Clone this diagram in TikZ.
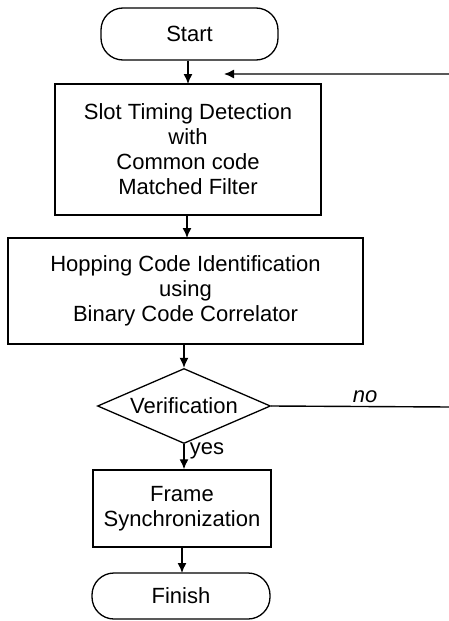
\documentclass[tikz,border=0pt]{standalone}
\usepackage{fontspec}
\setmainfont{Liberation Sans}
\usetikzlibrary{arrows.meta,shapes.geometric}
\begin{document}
\begin{tikzpicture}[x=1pt,y=-1pt,
  every node/.style={font=\fontsize{22}{25}\selectfont},
  term/.style={draw,line width=1.3pt,rounded corners=22pt,inner sep=0pt},
  procbox/.style={draw,line width=1.5pt,align=center,inner sep=0pt},
  decide/.style={draw,diamond,aspect=2.3,line width=1.3pt,inner sep=0pt},
  flow/.style={line width=1.4pt,-{Latex[length=10pt,width=9pt]}},
  lbl/.style={inner sep=0pt}]
\useasboundingbox (0,0) rectangle (449,621);
\node[term,minimum width=177pt,minimum height=52pt] (start) at (189.5,34) {Start};
\node[procbox,minimum width=266pt,minimum height=131pt] (b1) at (188,149.5)
  {Slot Timing Detection\\with\\Common code\\Matched Filter};
\node[procbox,minimum width=355pt,minimum height=106pt] (b2) at (185.5,291)
  {Hopping Code Identification\\using\\Binary Code Correlator};
\node[decide,minimum width=173pt,minimum height=75pt] (ver) at (184,406) {Verification};
\node[procbox,minimum width=178pt,minimum height=77pt] (b3) at (182,508.5)
  {Frame\\Synchronization};
\node[term,minimum width=178pt,minimum height=46pt] (fin) at (181,596) {Finish};
\node[lbl] (no) at (365,397) {\itshape no};
\node[lbl] (yes) at (207,451) {yes};
\coordinate (fbR) at (450,407);
\coordinate (fbT) at (450,74);
\coordinate (fbE) at (224,74);
\draw[flow] (start.south -| 188,0) -- (188,84);
\draw[flow] (b1.south -| 187,0) -- (187,238);
\draw[flow] (b2.south -| 184,0) -- (ver.north);
\draw[flow] (ver.south) -- (ver.south |- b3.north);
\draw[flow] (b3.south -| 182,0) -- (182,573);
\draw[flow] (ver.east) -- (fbR) -- (fbT) -- (fbE);
\end{tikzpicture}
\end{document}
